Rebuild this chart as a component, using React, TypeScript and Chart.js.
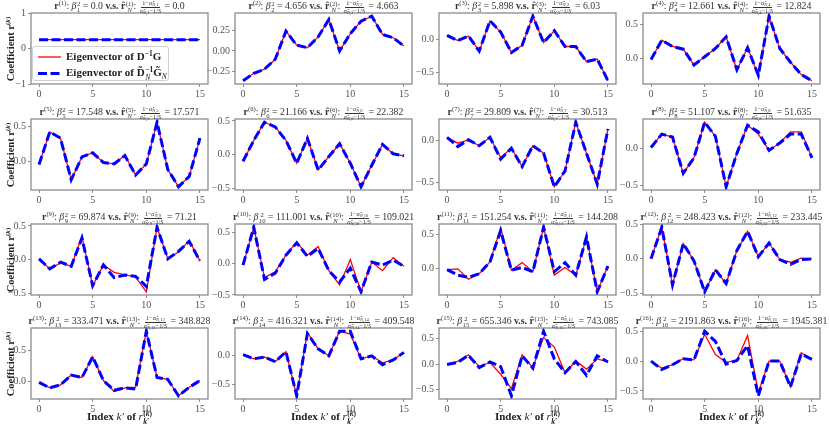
import React, { useEffect, useRef } from "react";
import { Chart, registerables } from "chart.js";
Chart.register(...registerables);

// ---------------- data ----------------
const indices = [0, 1, 2, 3, 4, 5, 6, 7, 8, 9, 10, 11, 12, 13, 14, 15];
const xTicks = [0, 5, 10, 15];

const betaSq = ["0.0", "4.656", "5.898", "12.661", "17.548", "21.166", "29.809", "51.107", "69.874", "111.001", "151.254", "248.423", "333.471", "416.321", "655.346", "2191.863"];
const rHatN = ["0.0", "4.663", "6.03", "12.824", "17.571", "22.382", "30.513", "51.635", "71.21", "109.021", "144.208", "233.445", "348.828", "409.548", "743.085", "1945.381"];

const red01 = [0.25, 0.25, 0.25, 0.25, 0.25, 0.25, 0.25, 0.25, 0.25, 0.25, 0.25, 0.25, 0.25, 0.25, 0.25, 0.25];
const blue01 = [0.25, 0.25, 0.25, 0.25, 0.25, 0.25, 0.25, 0.25, 0.25, 0.25, 0.25, 0.25, 0.25, 0.25, 0.25, 0.25];
const red02 = [-0.36, -0.27, -0.22, -0.10, 0.24, 0.07, 0.04, 0.17, 0.38, 0.00, 0.21, 0.36, 0.42, 0.20, 0.16, 0.06];
const blue02 = [-0.36, -0.27, -0.22, -0.10, 0.24, 0.07, 0.04, 0.17, 0.38, 0.00, 0.21, 0.36, 0.42, 0.20, 0.16, 0.06];
const red03 = [0.06, -0.02, 0.05, -0.18, 0.28, 0.11, -0.20, -0.09, 0.35, -0.05, 0.13, -0.11, -0.11, -0.34, -0.30, -0.63];
const blue03 = [0.06, -0.02, 0.05, -0.18, 0.28, 0.11, -0.20, -0.09, 0.35, -0.05, 0.13, -0.11, -0.11, -0.34, -0.30, -0.63];
const red04 = [-0.01, 0.27, 0.18, 0.14, -0.09, 0.03, 0.15, 0.32, -0.16, 0.16, -0.24, 0.62, 0.15, -0.05, -0.23, -0.32];
const blue04 = [-0.01, 0.27, 0.18, 0.14, -0.09, 0.03, 0.15, 0.32, -0.16, 0.16, -0.24, 0.62, 0.15, -0.05, -0.23, -0.32];
const red05 = [-0.05, 0.42, 0.33, -0.27, 0.06, 0.12, -0.02, -0.04, 0.08, -0.20, -0.04, 0.56, -0.12, -0.37, -0.22, 0.33];
const blue05 = [-0.05, 0.42, 0.33, -0.27, 0.06, 0.12, -0.02, -0.04, 0.08, -0.20, -0.04, 0.56, -0.12, -0.37, -0.22, 0.33];
const red06 = [-0.10, 0.21, 0.48, 0.41, 0.21, -0.13, 0.24, -0.23, -0.03, 0.16, -0.13, -0.48, -0.16, 0.15, 0.01, -0.02];
const blue06 = [-0.10, 0.21, 0.48, 0.41, 0.21, -0.13, 0.24, -0.23, -0.03, 0.16, -0.13, -0.48, -0.16, 0.15, 0.01, -0.02];
const red07 = [0.04, -0.03, 0.01, -0.06, 0.04, -0.20, -0.09, -0.31, -0.06, -0.15, -0.55, -0.36, 0.22, -0.15, -0.52, 0.14];
const blue07 = [0.04, -0.07, 0.01, -0.06, 0.04, -0.22, -0.09, -0.31, -0.06, -0.15, -0.55, -0.36, 0.22, -0.15, -0.52, 0.14];
const red08 = [0.01, 0.19, 0.15, -0.34, -0.13, 0.35, 0.16, -0.52, -0.07, 0.31, 0.19, -0.03, 0.07, 0.22, 0.22, -0.13];
const blue08 = [0.01, 0.19, 0.15, -0.34, -0.13, 0.35, 0.16, -0.52, -0.07, 0.31, 0.22, -0.03, 0.07, 0.19, 0.19, -0.13];
const red09 = [0.01, -0.14, -0.05, -0.10, 0.34, -0.39, -0.08, -0.19, -0.23, -0.26, -0.48, 0.48, 0.01, 0.11, 0.28, -0.02];
const blue09 = [0.01, -0.14, -0.04, -0.10, 0.32, -0.39, -0.08, -0.27, -0.23, -0.25, -0.40, 0.48, 0.01, 0.12, 0.27, -0.02];
const red10 = [-0.02, 0.59, -0.22, -0.13, 0.14, 0.35, 0.14, 0.28, -0.11, -0.34, 0.07, -0.45, 0.03, -0.11, 0.10, -0.04];
const blue10 = [-0.02, 0.59, -0.25, -0.15, 0.14, 0.34, 0.12, 0.25, -0.11, -0.29, -0.07, -0.45, 0.03, -0.02, 0.06, -0.04];
const red11 = [-0.01, 0.00, -0.15, -0.07, 0.10, 0.59, -0.02, 0.09, -0.04, 0.60, -0.09, 0.02, -0.09, 0.46, -0.33, 0.04];
const blue11 = [-0.01, -0.09, -0.12, -0.07, 0.10, 0.55, -0.02, 0.02, -0.04, 0.60, -0.04, 0.09, -0.09, 0.46, -0.33, 0.04];
const red12 = [0.00, 0.46, -0.38, 0.22, -0.03, -0.48, -0.16, -0.36, 0.12, 0.40, 0.03, 0.23, -0.01, -0.05, 0.01, 0.00];
const blue12 = [0.00, 0.46, -0.38, 0.22, -0.03, -0.48, -0.16, -0.36, 0.12, 0.40, 0.03, 0.23, -0.01, -0.08, -0.01, 0.00];
const red13 = [-0.02, -0.11, -0.06, 0.10, 0.06, 0.40, 0.01, -0.17, -0.11, -0.10, 0.82, 0.06, 0.03, -0.24, -0.10, 0.01];
const blue13 = [-0.02, -0.11, -0.06, 0.10, 0.06, 0.40, 0.01, -0.15, -0.11, -0.13, 0.82, 0.06, 0.03, -0.24, -0.10, 0.01];
const red14 = [0.01, -0.06, -0.03, -0.11, 0.06, -0.69, 0.39, 0.11, -0.01, 0.41, 0.36, -0.06, -0.01, -0.13, -0.08, 0.05];
const blue14 = [0.01, -0.06, -0.03, -0.11, 0.06, -0.69, 0.37, 0.11, -0.01, 0.41, 0.41, -0.06, -0.01, -0.16, -0.08, 0.05];
const red15 = [0.00, 0.05, 0.18, -0.05, 0.03, -0.20, -0.48, 0.18, -0.07, 0.52, 0.33, -0.17, 0.06, -0.10, 0.10, 0.04];
const blue15 = [-0.01, 0.03, 0.17, -0.07, 0.04, -0.05, -0.62, 0.16, -0.08, 0.64, 0.10, -0.17, 0.05, -0.22, 0.16, 0.04];
const red16 = [0.00, -0.12, -0.06, 0.04, 0.02, 0.45, 0.11, -0.02, 0.01, 0.43, -0.53, 0.00, 0.00, -0.43, 0.14, 0.03];
const blue16 = [0.00, -0.14, -0.06, 0.04, 0.02, 0.50, 0.33, -0.05, 0.01, 0.26, -0.58, 0.00, 0.00, -0.43, 0.12, 0.03];

const redSeries = [red01, red02, red03, red04, red05, red06, red07, red08, red09, red10, red11, red12, red13, red14, red15, red16];
const blueSeries = [blue01, blue02, blue03, blue04, blue05, blue06, blue07, blue08, blue09, blue10, blue11, blue12, blue13, blue14, blue15, blue16];

const yTicksList = [
  [-1, 0, 1], [-0.25, 0, 0.25], [-0.5, 0], [0, 0.5],
  [0, 0.5], [-0.5, 0, 0.5], [-0.5, 0], [-0.5, 0],
  [-0.5, 0, 0.5], [-0.5, 0, 0.5], [0, 0.5], [-0.5, 0, 0.5],
  [0, 0.5], [-0.5, 0], [-0.5, 0, 0.5], [-0.5, 0, 0.5],
];
const yDecimals = [0, 2, 1, 1, 1, 1, 1, 1, 1, 1, 1, 1, 1, 1, 1, 1];

// ---------------- layout ----------------
const COL_LEFT = [31, 235, 439, 643];
const ROW_TOP = [13, 119, 224, 328];
const BOX_W = 177;
const BOX_H = 71;
const PAD_L = 32, PAD_T = 8, PAD_R = 8, PAD_B = 16;
const SERIF = "'Liberation Serif', 'DejaVu Serif', serif";
const FRAME = "#8c8c8c";
const TICK_TXT = "#555555";

function fmt(v: number, dec: number) {
  const s = Math.abs(v).toFixed(dec);
  return v < 0 ? "\u2212" + s : s;
}

const framePlugin = {
  id: "frame",
  afterDatasetsDraw(chart: any) {
    const { ctx, chartArea: a } = chart;
    ctx.save();
    ctx.strokeStyle = FRAME;
    ctx.lineWidth = 1.3;
    ctx.strokeRect(a.left, a.top, a.right - a.left, a.bottom - a.top);
    ctx.restore();
  },
};

function Panel({ idx }: { idx: number }) {
  const ref = useRef<HTMLCanvasElement | null>(null);
  const col = idx % 4;
  const row = Math.floor(idx / 4);
  useEffect(() => {
    const red = redSeries[idx];
    const blue = blueSeries[idx];
    let ymin: number, ymax: number;
    if (idx === 0) {
      ymin = -1; ymax = 1;
    } else {
      const all = [...red, ...blue];
      const lo = Math.min(...all), hi = Math.max(...all);
      const m = (hi - lo) * 0.05;
      ymin = lo - m; ymax = hi + m;
    }
    const tickFont = { family: SERIF, size: 10 };
    const chart = new Chart(ref.current as HTMLCanvasElement, {
      type: "line",
      data: {
        datasets: [
          {
            label: "Eigenvector of D\u207B\u00B9G",
            data: red.map((y, i) => ({ x: indices[i], y })),
            borderColor: "#ff0000",
            borderWidth: 1.3,
            pointRadius: 0,
            tension: 0,
            fill: false,
            order: 2,
          },
          {
            label: "Eigenvector of D\u0303N\u207B\u00B9G\u0303N",
            data: blue.map((y, i) => ({ x: indices[i], y })),
            borderColor: "#0000ff",
            borderWidth: 3,
            borderDash: [9, 3.5],
            pointRadius: 0,
            tension: 0,
            fill: false,
            order: 1,
          },
        ],
      },
      options: {
        animation: false,
        responsive: false,
        devicePixelRatio: 1,
        events: [],
        layout: { padding: { left: 0, top: PAD_T, right: PAD_R, bottom: 0 } },
        plugins: { legend: { display: false }, tooltip: { enabled: false }, title: { display: false } },
        scales: {
          x: {
            type: "linear",
            min: -0.75,
            max: 15.75,
            afterBuildTicks: (s: any) => { s.ticks = xTicks.map((v) => ({ value: v })); },
            afterFit: (s: any) => { s.height = PAD_B; },
            ticks: { font: tickFont, color: TICK_TXT, padding: 1, maxRotation: 0, autoSkip: false, callback: (v: any) => String(v) },
            grid: { drawOnChartArea: false, drawTicks: true, tickLength: 3, color: FRAME, lineWidth: 1 },
            border: { display: false },
          },
          y: {
            type: "linear",
            min: ymin,
            max: ymax,
            afterBuildTicks: (s: any) => { s.ticks = yTicksList[idx].map((v) => ({ value: v })); },
            afterFit: (s: any) => { s.width = PAD_L; },
            ticks: { font: tickFont, color: TICK_TXT, padding: 2, autoSkip: false, callback: (v: any) => fmt(Number(v), yDecimals[idx]) },
            grid: { drawOnChartArea: false, drawTicks: true, tickLength: 3, color: FRAME, lineWidth: 1 },
            border: { display: false },
          },
        },
      } as any,
      plugins: [framePlugin],
    });
    return () => chart.destroy();
  }, [idx]);
  const w = PAD_L + BOX_W + PAD_R;
  const h = PAD_T + BOX_H + PAD_B;
  return (
    <canvas
      ref={ref}
      width={w}
      height={h}
      style={{ position: "absolute", left: COL_LEFT[col] - PAD_L, top: ROW_TOP[row] - PAD_T, width: w, height: h }}
    />
  );
}

function Sup({ children }: any) {
  return <span style={{ fontSize: "0.68em", verticalAlign: "0.55em", lineHeight: 0 }}>{children}</span>;
}
function SubS({ children }: any) {
  return <span style={{ fontSize: "0.68em", verticalAlign: "-0.35em", lineHeight: 0 }}>{children}</span>;
}
function Scripts({ sup, sub }: any) {
  return (
    <span style={{ display: "inline-flex", flexDirection: "column", fontSize: "0.68em", lineHeight: 1, verticalAlign: "0.5em", marginLeft: 0.5 }}>
      <span>{sup}</span>
      <span>{sub}</span>
    </span>
  );
}
function Frac({ k }: { k: number }) {
  const tiny = { fontSize: "0.72em", verticalAlign: "-0.3em", lineHeight: 0 } as any;
  return (
    <span style={{ display: "inline-flex", flexDirection: "column", alignItems: "center", fontSize: "0.64em", lineHeight: 1, verticalAlign: "0.62em", margin: "0 1px" }}>
      <span style={{ borderBottom: "0.6px solid #333", padding: "0 1px 0.5px" }}>
        1{"\u2212"}<i>{"\u03B1\u0302"}</i><span style={tiny}><i>N</i>,{k}</span>
      </span>
      <span style={{ paddingTop: 0.5 }}>
        <i>{"\u03B1\u0302"}</i><span style={tiny}><i>N</i>,{k}</span>{"\u2212"}1/<i>S</i>
      </span>
    </span>
  );
}

function Title({ idx }: { idx: number }) {
  const col = idx % 4;
  const row = Math.floor(idx / 4);
  const k = idx + 1;
  const cx = COL_LEFT[col] + BOX_W / 2;
  return (
    <div
      style={{
        position: "absolute",
        left: cx - 150,
        width: 300,
        top: ROW_TOP[row] - 14,
        height: 14,
        textAlign: "center",
        fontFamily: SERIF,
        fontSize: 9.8,
        lineHeight: "14px",
        color: "#333",
        whiteSpace: "nowrap",
      }}
    >
      <b>r</b><Sup>({k})</Sup>: <i>{"\u03B2"}</i><Scripts sup="2" sub={String(k)} /> = {betaSq[idx]} <b>v.s.</b>{" "}
      <b>{"r\u0302"}</b><Scripts sup={`(${k})`} sub={<i>N</i>} />: <Frac k={k} /> = {rHatN[idx]}
    </div>
  );
}

function YLabel({ row }: { row: number }) {
  const cy = ROW_TOP[row] + BOX_H / 2;
  return (
    <div
      style={{
        position: "absolute",
        left: 10,
        top: cy,
        transform: "translate(-50%, -50%) rotate(-90deg)",
        fontFamily: SERIF,
        fontSize: 10.5,
        fontWeight: "bold",
        whiteSpace: "nowrap",
        color: "#222",
      }}
    >
      Coefficient <b>r</b><Sup>(<i>k</i>)</Sup>
    </div>
  );
}

function XLabel({ col }: { col: number }) {
  const cx = COL_LEFT[col] + BOX_W / 2;
  return (
    <div
      style={{
        position: "absolute",
        left: cx,
        top: 418,
        transform: "translate(-50%, -50%)",
        fontFamily: SERIF,
        fontSize: 11,
        fontWeight: "bold",
        whiteSpace: "nowrap",
        color: "#222",
      }}
    >
      Index <i style={{ fontWeight: "normal" }}>k{"\u2032"}</i> of <i style={{ fontWeight: "normal" }}>r</i>
      <Scripts sup={<span>(<i>k</i>)</span>} sub={<i>k{"\u2032"}</i>} />
    </div>
  );
}

function Legend() {
  const txt = { position: "absolute", left: 33, fontFamily: SERIF, fontSize: 11, fontWeight: "bold", lineHeight: "13px", whiteSpace: "nowrap", color: "#222" } as any;
  return (
    <div
      style={{
        position: "absolute",
        left: 32,
        top: 46,
        width: 137,
        height: 35,
        border: "1px solid #d0d0d0",
        borderRadius: 3,
        background: "rgba(255,255,255,0.85)",
        boxSizing: "border-box",
      }}
    >
      <svg style={{ position: "absolute", left: 5, top: 8 }} width={23} height={4}>
        <line x1={0} y1={2} x2={23} y2={2} stroke="#ff0000" strokeWidth={1.3} />
      </svg>
      <div style={{ ...txt, top: 3 }}>
        Eigenvector of D<Sup>{"\u2212"}1</Sup>G
      </div>
      <svg style={{ position: "absolute", left: 5, top: 24 }} width={23} height={5}>
        <line x1={0} y1={2.5} x2={23} y2={2.5} stroke="#0000ff" strokeWidth={3} strokeDasharray="9 3.5" />
      </svg>
      <div style={{ ...txt, top: 19 }}>
        Eigenvector of {"D\u0303"}<Scripts sup={"\u22121"} sub={<i style={{ fontWeight: "normal" }}>N</i>} />{"G\u0303"}<SubS><i style={{ fontWeight: "normal" }}>N</i></SubS>
      </div>
    </div>
  );
}

export default function App() {
  const panelIdx = indices;
  return (
    <div style={{ position: "absolute", left: 0, top: 0, width: 830, height: 424, background: "#fff", overflow: "hidden" }}>
      {panelIdx.map((i) => <Panel key={"p" + i} idx={i} />)}
      {panelIdx.map((i) => <Title key={"t" + i} idx={i} />)}
      {[0, 1, 2, 3].map((r) => <YLabel key={"y" + r} row={r} />)}
      {[0, 1, 2, 3].map((c) => <XLabel key={"x" + c} col={c} />)}
      <Legend />
    </div>
  );
}
